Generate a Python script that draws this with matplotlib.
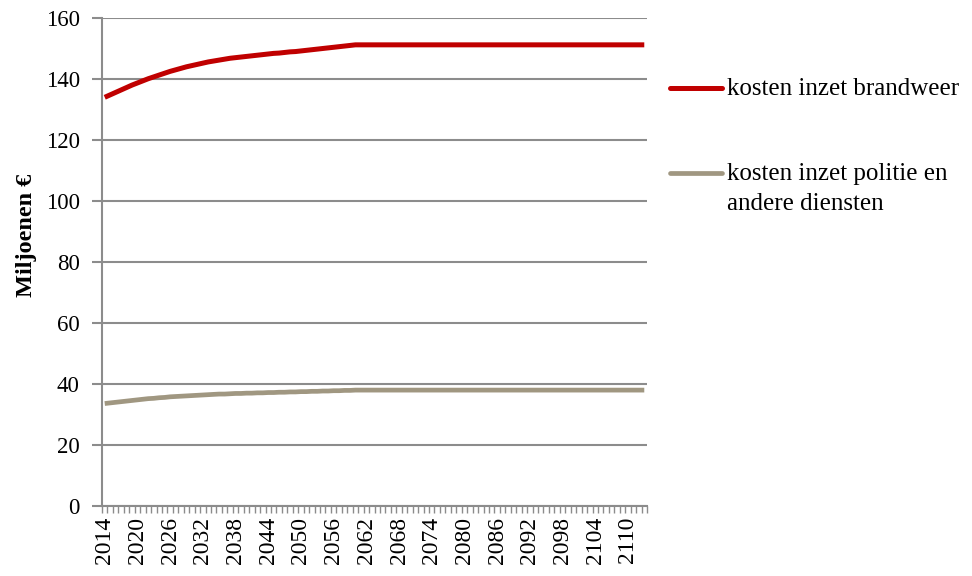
import matplotlib
matplotlib.use("Agg")
import matplotlib.pyplot as plt
import numpy as np
from matplotlib.lines import Line2D

years = list(range(2014, 2114))

brandweer_rise = [134.0, 134.8, 135.6, 136.4, 137.2, 138.0, 138.7, 139.4, 140.1, 140.7,
                  141.3, 141.9, 142.5, 143.0, 143.5, 144.0, 144.4, 144.8, 145.2, 145.6,
                  145.9, 146.2, 146.5, 146.8, 147.0, 147.2, 147.4, 147.6, 147.8, 148.0,
                  148.2, 148.4, 148.5, 148.7, 148.9, 149.0, 149.2, 149.4, 149.6, 149.8,
                  150.0, 150.2, 150.4, 150.6, 150.8, 151.0, 151.2]
brandweer_flat = [151.2] * 53
brandweer = brandweer_rise + brandweer_flat

politie_rise = [33.6, 33.8, 34.0, 34.2, 34.4, 34.6, 34.8, 35.0, 35.2, 35.3,
                35.5, 35.6, 35.8, 35.9, 36.0, 36.1, 36.2, 36.3, 36.4, 36.5,
                36.6, 36.7, 36.7, 36.8, 36.9, 36.9, 37.0, 37.0, 37.1, 37.1,
                37.2, 37.2, 37.3, 37.3, 37.4, 37.4, 37.5, 37.5, 37.6, 37.6,
                37.7, 37.7, 37.8, 37.8, 37.9, 37.9, 38.0]
politie_flat = [38.0] * 53
politie = politie_rise + politie_flat

label_brandweer = "kosten inzet brandweer"
label_politie_1 = "kosten inzet politie en"
label_politie_2 = "andere diensten"
ylabel = "Miljoenen €"
yticks = [0, 20, 40, 60, 80, 100, 120, 140, 160]

red = "#C00000"
taupe = "#A09781"
gridc = "#8C8C8C"
font = "Liberation Serif"

fig = plt.figure(figsize=(9.72, 5.76), dpi=100)
ax = fig.add_axes([102/972, 1-506/576, 545/972, 488/576])

x = np.arange(len(years))
ax.plot(x, brandweer, color=red, lw=3.6, solid_capstyle="butt", zorder=3)
ax.plot(x, politie, color=taupe, lw=3.4, solid_capstyle="butt", zorder=3)

ax.set_xlim(-0.5, len(years) - 0.5)
ax.set_ylim(0, 160)
ax.set_yticks(yticks)
ax.set_yticklabels([str(v) for v in yticks], fontfamily=font, fontsize=16.5)
ax.yaxis.grid(True, color=gridc, lw=1.5)
ax.set_axisbelow(True)

lab_idx = x[::6]
ax.set_xticks(lab_idx)
ax.set_xticklabels([str(years[i]) for i in lab_idx], rotation=90,
                   fontfamily=font, fontsize=17)
ax.set_xticks(np.arange(-0.5, len(years), 1), minor=True)
ax.tick_params(axis="x", which="major", length=0, pad=8)
ax.tick_params(axis="x", which="minor", length=5, width=1, color=gridc, direction="out")
ax.tick_params(axis="y", which="major", length=7, width=1.5, color=gridc, pad=9)

for s in ["top", "right"]:
    ax.spines[s].set_visible(False)
for s in ["left", "bottom"]:
    ax.spines[s].set_color(gridc)
    ax.spines[s].set_linewidth(1.5)

ax.set_ylabel(ylabel, fontfamily=font, fontsize=17.5, fontweight="bold")
ax.yaxis.set_label_coords(-0.12, 0.555)

# legend
fig.add_artist(Line2D([670/972, 722/972], [1-88/576, 1-88/576], color=red, lw=3.6,
                      solid_capstyle="round"))
fig.add_artist(Line2D([670/972, 722/972], [1-173/576, 1-173/576], color=taupe, lw=3.4,
                      solid_capstyle="round"))
fig.text(727/972, 1-89/576, label_brandweer, fontfamily=font, fontsize=18,
         va="center", ha="left")
fig.text(727/972, 1-174/576, label_politie_1, fontfamily=font, fontsize=18,
         va="center", ha="left")
fig.text(727/972, 1-204/576, label_politie_2, fontfamily=font, fontsize=18,
         va="center", ha="left")

fig.savefig("out.png", dpi=100)
